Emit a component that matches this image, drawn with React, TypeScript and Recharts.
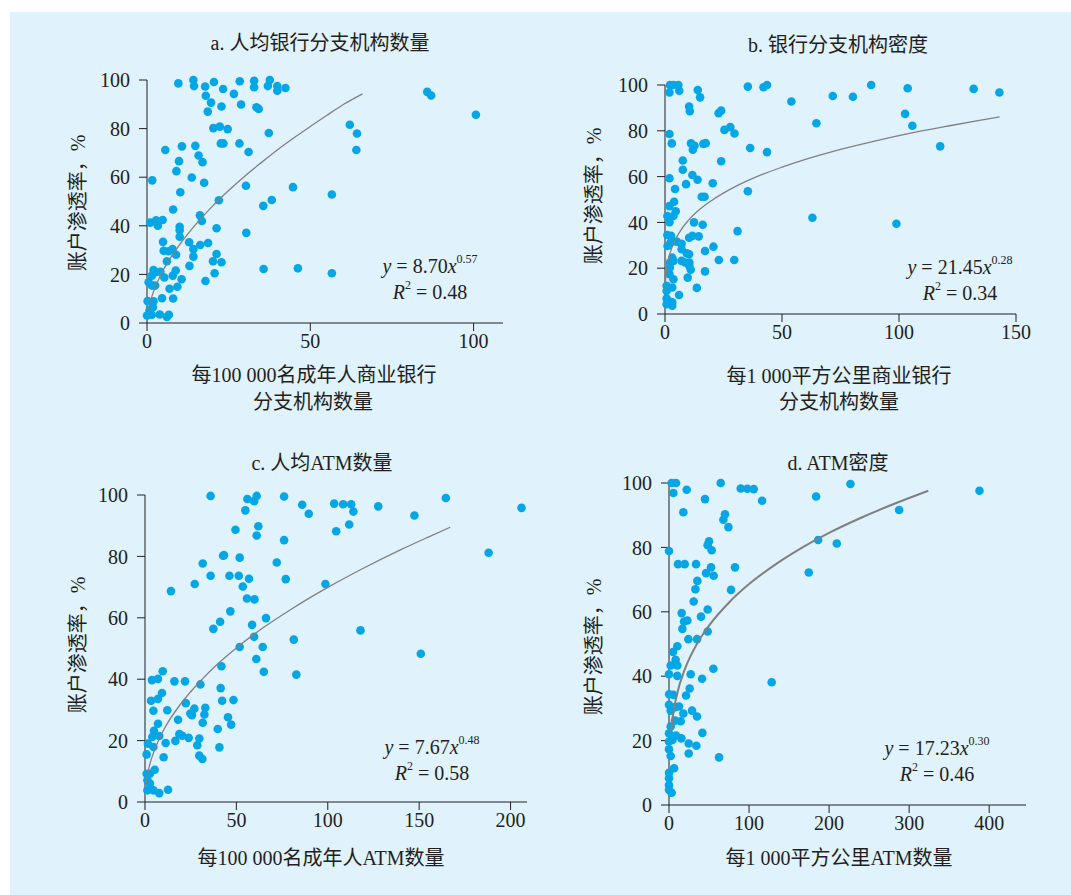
import React from "react";
import { ScatterChart, Scatter, XAxis, YAxis } from "recharts";

const FONT = "'Liberation Serif', 'Noto Sans CJK SC', serif";
const INK = "#231f20";
const DOT = "#05a6e6";
const FIT = "#808080";
const BG = "#e0f2fb";

const yTicks = [0, 20, 40, 60, 80, 100];

// a. branches per 100 000 adults vs account penetration (%)
const branchPerAdult: [number, number][] = [
  [9.6, 98.6], [14.2, 100], [14.4, 97.5], [17.8, 97.3], [20.5, 99.2], [23.3, 96.3], [26.6, 94.3], [28.4, 99.5],
  [32.8, 99.7], [32.8, 97], [37.6, 100], [37, 97.5], [39.9, 97.5], [39.9, 95.6], [42.4, 96.7], [18, 93.5],
  [19.6, 90.7], [22.8, 89.1], [28.8, 89.9], [33.5, 88.8], [34.2, 88.1], [18.6, 87], [20.3, 80.2], [22.3, 80.8],
  [24.7, 79.8], [37.3, 78.2], [22.6, 73.9], [23.4, 73.9], [28.3, 73.9], [31.1, 70.4], [5.6, 71.2], [10.7, 72.7],
  [14.8, 72.9], [15.8, 68.9], [17, 66.2], [9.8, 66.6], [9, 62.5], [13.7, 59.9], [17.5, 57.7], [10.2, 53.8],
  [1.6, 58.7], [22, 50.5], [30.3, 56.5], [44.7, 55.9], [56.6, 52.9], [35.6, 48.2], [38.2, 50.6], [8, 46.7],
  [16.2, 44.3], [16.8, 42], [21.3, 39], [30.4, 37.1], [1, 41.3], [2.8, 42.3], [4.8, 42.4], [3.3, 40],
  [10, 39.6], [10, 38.2], [10, 35.5], [4.9, 33.4], [12.9, 33.2], [14.2, 30.4], [16.3, 32.1], [18.7, 32.9],
  [5.1, 29.7], [6.6, 29.5], [7.8, 30.4], [8.9, 28.1], [14.2, 27.3], [6.1, 25.4], [21.3, 28.4], [20.2, 25.4],
  [22.8, 25], [13, 23.5], [35.7, 22.2], [46.2, 22.5], [56.6, 20.5], [20.7, 20.5], [2, 21.8], [2.6, 20.9],
  [4.1, 21.1], [1.5, 19.5], [0.5, 16.8], [1.5, 15.4], [2.5, 15.4], [5.3, 18.7], [7.9, 19.5], [8.8, 21.6],
  [10.6, 18], [9.3, 14.9], [6.9, 14.1], [17.9, 17.3], [4.6, 10.2], [8, 10.1], [0.2, 9], [2, 8.9],
  [1.8, 6.5], [0.8, 5.2], [0, 3.1], [1.5, 3.4], [3.9, 3.5], [6.1, 2.5], [6.7, 3.4], [62.1, 81.6],
  [64.3, 78], [64.1, 71.2], [85.8, 95.1], [87, 93.6], [100.7, 85.7],
];
const branchPerAdultFit: [number, number][] = [
  [0.4, 5.2], [1, 8.7], [2, 12.9], [4, 19.2], [7, 26.4], [10, 32.3], [15, 40.7], [20, 48], [25, 54.5],
  [30, 60.5], [35, 66], [40, 71.3], [45, 76.2], [50, 80.9], [55, 85.4], [60, 89.8], [66, 94.3],
];

// b. branches per 1 000 km2
const branchPerArea: [number, number][] = [
  [2.1, 100], [3.6, 100], [5.7, 100], [1.9, 96.7], [6.1, 97.5], [14, 97.8], [15, 94.6], [10.3, 90.6],
  [10.6, 88.6], [22.9, 87.7], [24, 88.8], [25.4, 80.4], [27.9, 81.6], [29.7, 78.8], [1.9, 78.6], [2.9, 74.5],
  [11.1, 74.5], [12.6, 73.5], [11.9, 71.7], [16.4, 74.3], [17.4, 74.6], [36.4, 72.5], [43.6, 70.7], [35.4, 99.3],
  [42.1, 99], [43.6, 100], [71.7, 95.2], [80.3, 94.9], [54, 92.8], [88.1, 100], [103.7, 98.6], [131.9, 98.3],
  [142.9, 96.7], [102.6, 87.4], [105.7, 82.2], [117.6, 73.2], [64.7, 83.3], [35.4, 53.6], [63, 42], [98.9, 39.4],
  [31, 36.2], [7.6, 67], [7.6, 63], [24, 66.7], [1.9, 59.3], [4.3, 54.6], [9, 56.7], [11.7, 60.7],
  [13.9, 58.6], [20.4, 57.1], [15.7, 51.2], [16.9, 51.2], [1.9, 47.1], [3.9, 49], [4.6, 44.9], [1, 42.8],
  [3.6, 42.8], [1.9, 40.1], [12.4, 40], [16.1, 39], [1, 34.5], [2.6, 34.1], [10.3, 33.3], [11.7, 34.1],
  [14.4, 33.9], [2.4, 31.2], [5, 31.6], [7.1, 30.7], [1.1, 29.7], [7.1, 28.3], [9.3, 26.5], [10.3, 26.1],
  [17.1, 27.5], [20.7, 29.4], [3.1, 24.6], [3.6, 23.2], [7.1, 23.2], [8.6, 22.5], [10.4, 22.5], [10.4, 21],
  [11, 19.3], [2.1, 22.5], [2.1, 20.3], [1.9, 17.4], [3.6, 15.2], [17.1, 18.6], [23, 23.6], [29.6, 23.6],
  [9.7, 15.9], [13.6, 11.4], [3.1, 11.6], [6, 8.3], [0.7, 10.1], [0.7, 6.8], [1.4, 5.8], [3.1, 5.1],
  [3.1, 3.6], [0.7, 4.3], [0.7, 12.3],
];
const branchPerAreaFit: [number, number][] = [
  [0.07, 10.2], [0.3, 15.3], [1, 21.5], [2, 26], [4, 31.6], [7, 37], [10, 40.9], [15, 45.8], [20, 49.6],
  [30, 55.6], [40, 60.3], [50, 64.1], [60, 67.5], [75, 71.9], [90, 75.6], [105, 79], [120, 81.9], [135, 84.7],
  [143, 86.1],
];

// c. ATMs per 100 000 adults
const atmPerAdult: [number, number][] = [
  [35.9, 99.7], [56, 98.7], [59.7, 98], [61.1, 99.7], [76.1, 99.5], [86, 96.8], [89.6, 93.9], [103.5, 97.2],
  [108.4, 97], [112.8, 97], [114, 94.6], [127.6, 96.3], [147.4, 93.3], [164.6, 99], [206, 95.8], [54.9, 95],
  [62, 89.8], [61.1, 86.8], [49.5, 88.7], [76.1, 85.3], [104.6, 88.2], [111.7, 90.4], [188, 81.2], [42.7, 80.2],
  [43.2, 80.4], [31.6, 77.7], [51.8, 79.6], [72.1, 78], [35.9, 73.7], [46.2, 73.7], [51.3, 73.7], [56.9, 72.7],
  [77, 72.6], [27.2, 71], [53.5, 70.2], [14.2, 68.7], [98.7, 71], [55.8, 66.3], [59.9, 66], [46.7, 62.1],
  [66.2, 59.9], [41.1, 58.7], [37.4, 56.4], [58.6, 57.7], [59.7, 53.8], [81.4, 52.9], [64.4, 50.5], [51.8, 50.5],
  [60.9, 46.6], [65, 42.4], [82.8, 41.5], [117.9, 55.9], [150.9, 48.3], [41.8, 44.2], [9.7, 42.6], [3.8, 39.7],
  [7.1, 40.1], [16.1, 39.3], [21.9, 39.3], [30.3, 38.3], [41.4, 37.1], [9.3, 35.5], [3.3, 33], [7.1, 33.6],
  [22.3, 32.2], [42.2, 33], [48.4, 33.2], [4.6, 29.7], [12.2, 29.9], [27, 30.4], [33, 30.7], [24.8, 28.8],
  [25.7, 28.3], [32.5, 28.5], [45.4, 27.6], [18.1, 26.8], [31.6, 25.8], [47.1, 25.2], [7.1, 25.5], [4.9, 23.2],
  [4, 21.2], [7.8, 21.5], [18.8, 22.1], [20.4, 21.6], [23.9, 20.9], [29.7, 20.7], [39.8, 23.8], [1.6, 19],
  [4.6, 17.9], [11.3, 19.2], [16.6, 19.9], [28.6, 18.5], [40.7, 17.8], [0.9, 15.5], [10.2, 14.6], [29.7, 15.1],
  [31.4, 14], [5.3, 10.5], [0.9, 9.2], [2.7, 9.2], [1.3, 7.1], [2.7, 6], [1.3, 3.8], [4.6, 3.8],
  [7.8, 2.9], [12.6, 4],
];
const atmPerAdultFit: [number, number][] = [
  [0.6, 6], [2, 10.7], [5, 16.6], [10, 23.2], [20, 32.3], [30, 39.2], [40, 45.1], [50, 50.2], [65, 56.9],
  [80, 62.8], [100, 69.9], [120, 76.3], [140, 82.2], [155, 86.3], [167, 89.5],
];

// d. ATMs per 1 000 km2
const atmPerArea: [number, number][] = [
  [3.3, 100], [8.8, 100], [64.6, 100], [5.4, 96.9], [22.1, 97.9], [89.6, 98.3], [97.9, 98.2], [105.8, 98.1],
  [116.3, 94.5], [45, 95], [17.9, 90.9], [226.7, 99.7], [183.8, 95.8], [387.9, 97.6], [287.5, 91.6], [70, 90.3],
  [67.9, 88.6], [74.2, 86.3], [50, 81.9], [48.3, 80.7], [53.3, 79.1], [0, 78.9], [186.3, 82.3], [209.6, 81.2],
  [11.3, 74.8], [19.6, 74.8], [33.8, 74.8], [52.5, 73.8], [46.3, 72], [55.8, 71.2], [82.5, 73.8], [174.6, 72.2],
  [35.4, 69.6], [33, 67], [77.5, 66.8], [30.8, 63.2], [48.3, 60.7], [40, 58.5], [15.8, 59.6], [22.9, 57.3],
  [18.8, 57], [16.7, 54.7], [48.3, 53.9], [24.2, 51.5], [35, 51.5], [10.4, 49.3], [5, 47.5], [8.3, 45.1],
  [2.1, 43.3], [10.4, 43.3], [0, 40.6], [10.4, 40.1], [27.1, 40.6], [55.4, 42.3], [41.3, 39.2], [128.3, 38.1],
  [25.8, 36.2], [0.2, 34.4], [5.4, 34.2], [21.3, 34], [0, 31.1], [7.5, 30.4], [12.5, 30.6], [2.1, 29.3],
  [17.9, 28.4], [28.8, 29.3], [35, 27.5], [7.5, 26.2], [14.6, 26], [2.1, 24.4], [0, 22.3], [8.8, 21.6],
  [15.4, 20.7], [41.7, 22.4], [0, 19.7], [4.2, 20.2], [24.6, 19.1], [34.2, 18.4], [0, 17.3], [2.1, 15.2],
  [24.6, 16], [62.5, 14.8], [6.3, 11.4], [0, 10], [0, 8.3], [0, 6.2], [0, 4.7], [3.3, 3.8],
];
const atmPerAreaFit: [number, number][] = [
  [2.5, 22.7], [5, 27.9], [10, 34.4], [20, 42.3], [35, 50.1], [50, 55.7], [75, 62.9], [100, 68.6],
  [130, 74.2], [160, 79], [200, 84.5], [240, 89.2], [280, 93.4], [324, 97.6],
];

const toXY = (pts: [number, number][]) => pts.map(([x, y]) => ({ x, y }));

const tickStyle = { fill: INK, fontSize: 20, fontFamily: FONT };

interface PanelProps {
  x0: number; x1: number; y0: number; y1: number;
  xMax: number; xTicks: number[];
  points: [number, number][];
  fit: [number, number][];
  fitWidth: number;
}

function Panel({ x0, x1, y0, y1, xMax, xTicks, points, fit, fitWidth }: PanelProps) {
  const left = x0 - 80;
  const top = y0 - 20;
  return (
    <div style={{ position: "absolute", left, top }}>
      <ScatterChart
        width={x1 - x0 + 100}
        height={y1 - y0 + 60}
        margin={{ top: 20, right: 20, bottom: 0, left: 0 }}
      >
        <XAxis
          type="number"
          dataKey="x"
          domain={[0, xMax]}
          ticks={xTicks}
          interval={0}
          height={40}
          tickSize={8}
          tickMargin={3}
          stroke={INK}
          tick={tickStyle}
        />
        <YAxis
          type="number"
          dataKey="y"
          domain={[0, 100]}
          ticks={yTicks}
          interval={0}
          width={80}
          tickSize={8}
          tickMargin={9}
          stroke={INK}
          tick={tickStyle}
        />
        <Scatter
          data={toXY(points)}
          isAnimationActive={false}
          shape={(p: any) => <circle cx={p.cx} cy={p.cy} r={4.3} fill={DOT} />}
        />
        <Scatter
          data={toXY(fit)}
          isAnimationActive={false}
          line={{ stroke: FIT, strokeWidth: fitWidth }}
          lineJointType="monotoneX"
          shape={() => <g />}
        />
      </ScatterChart>
    </div>
  );
}

function Text({ x, y, children, rotate }: { x: number; y: number; children: React.ReactNode; rotate?: boolean }) {
  return (
    <div
      style={{
        position: "absolute",
        left: x,
        top: y,
        transform: `translate(-50%, -50%)${rotate ? " rotate(-90deg)" : ""}`,
        whiteSpace: "nowrap",
        fontSize: 20,
        lineHeight: "24px",
        color: INK,
        fontFamily: FONT,
      }}
    >
      {children}
    </div>
  );
}

const supStyle: React.CSSProperties = { fontSize: 12, verticalAlign: "top", lineHeight: "14px", position: "relative", top: -2 };

function Equation({ x, y, a, b, r2 }: { x: number; y: number; a: string; b: string; r2: string }) {
  return (
    <>
      <Text x={x} y={y}>
        <i>y</i> = {a}<i>x</i><span style={supStyle}>{b}</span>
      </Text>
      <Text x={x} y={y + 26}>
        <i>R</i><span style={supStyle}>2</span> = {r2}
      </Text>
    </>
  );
}

export default function App() {
  return (
    <div style={{ position: "absolute", left: 0, top: 0, width: 1071, height: 895, background: "#fff", overflow: "hidden" }}>
      <div style={{ position: "absolute", left: 10, top: 12, width: 1061, height: 883, background: BG }} />

      <Panel x0={147} x1={503} y0={80} y1={323} xMax={109} xTicks={[0, 50, 100]}
        points={branchPerAdult} fit={branchPerAdultFit} fitWidth={1.3} />
      <Panel x0={665} x1={1016} y0={85} y1={314} xMax={150} xTicks={[0, 50, 100, 150]}
        points={branchPerArea} fit={branchPerAreaFit} fitWidth={1.3} />
      <Panel x0={145} x1={527} y0={495} y1={802} xMax={209} xTicks={[0, 50, 100, 150, 200]}
        points={atmPerAdult} fit={atmPerAdultFit} fitWidth={1.3} />
      <Panel x0={669} x1={1026} y0={483} y1={805} xMax={446} xTicks={[0, 100, 200, 300, 400]}
        points={atmPerArea} fit={atmPerAreaFit} fitWidth={2} />

      <Text x={320} y={43}>a. 人均银行分支机构数量</Text>
      <Text x={838} y={45}>b. 银行分支机构密度</Text>
      <Text x={322} y={463}>c. 人均ATM数量</Text>
      <Text x={838} y={463}>d. ATM密度</Text>

      <Text x={78} y={203} rotate>账户渗透率，%</Text>
      <Text x={594} y={196} rotate>账户渗透率，%</Text>
      <Text x={78} y={645} rotate>账户渗透率，%</Text>
      <Text x={594} y={647} rotate>账户渗透率，%</Text>

      <Text x={314} y={375}>每100 000名成年人商业银行</Text>
      <Text x={313} y={402}>分支机构数量</Text>
      <Text x={839} y={376}>每1 000平方公里商业银行</Text>
      <Text x={839} y={402}>分支机构数量</Text>
      <Text x={321} y={858}>每100 000名成年人ATM数量</Text>
      <Text x={839} y={858}>每1 000平方公里ATM数量</Text>

      <Equation x={430} y={266} a="8.70" b="0.57" r2="0.48" />
      <Equation x={960} y={267} a="21.45" b="0.28" r2="0.34" />
      <Equation x={432} y={747} a="7.67" b="0.48" r2="0.58" />
      <Equation x={937} y={748} a="17.23" b="0.30" r2="0.46" />
    </div>
  );
}
